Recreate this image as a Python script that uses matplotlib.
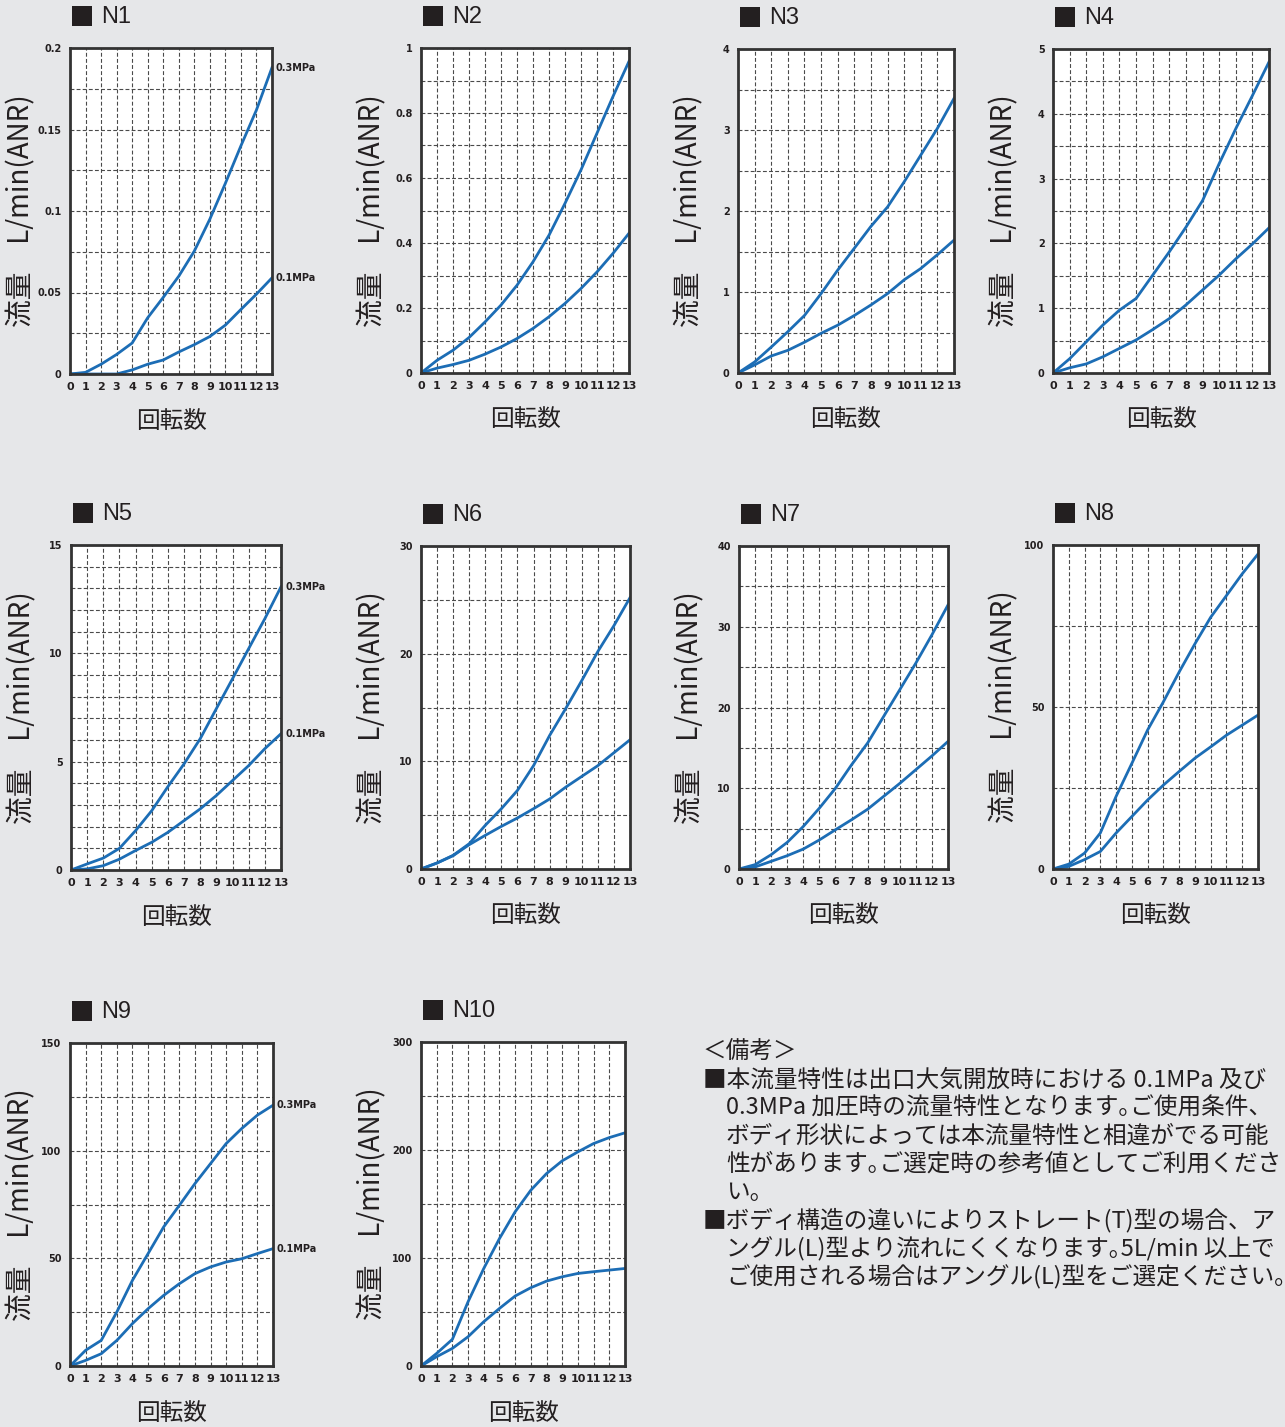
import matplotlib.pyplot as plt
from matplotlib.patches import Rectangle

W, H = 1285, 1427
BG = '#e6e7e9'
BLUE = '#1c6db5'
INK = '#231f20'
JP = ['Noto Sans CJK JP', 'DejaVu Sans']
NUM = ['Liberation Sans Narrow', 'DejaVu Sans']

turns = list(range(14))
turn_labels = [str(t) for t in turns]

# flow values: 0.3MPa and 0.1MPa curves
n1_03 = [0, 0.001, 0.006, 0.012, 0.019, 0.0345, 0.047, 0.060, 0.0754, 0.095, 0.117, 0.140, 0.162, 0.188]
n1_01 = [0, 0, 0, 0, 0.0025, 0.006, 0.0086, 0.0135, 0.018, 0.023, 0.030, 0.0396, 0.049, 0.059]
n2_03 = [0, 0.039, 0.070, 0.109, 0.157, 0.209, 0.270, 0.342, 0.424, 0.522, 0.625, 0.738, 0.851, 0.959]
n2_01 = [0, 0.015, 0.026, 0.039, 0.058, 0.080, 0.106, 0.137, 0.173, 0.214, 0.260, 0.311, 0.368, 0.430]
n3_03 = [0, 0.136, 0.32, 0.51, 0.71, 0.98, 1.27, 1.54, 1.81, 2.05, 2.36, 2.69, 3.02, 3.39]
n3_01 = [0, 0.10, 0.21, 0.28, 0.38, 0.49, 0.59, 0.71, 0.84, 0.98, 1.15, 1.29, 1.46, 1.64]
n4_03 = [0, 0.22, 0.48, 0.74, 0.97, 1.15, 1.51, 1.87, 2.25, 2.66, 3.23, 3.77, 4.28, 4.80]
n4_01 = [0, 0.08, 0.14, 0.25, 0.38, 0.51, 0.67, 0.84, 1.05, 1.28, 1.51, 1.76, 1.99, 2.24]
n5_03 = [0, 0.28, 0.55, 1.0, 1.82, 2.74, 3.85, 4.90, 6.06, 7.45, 8.83, 10.22, 11.6, 13.07]
n5_01 = [0, 0.05, 0.2, 0.5, 0.9, 1.28, 1.74, 2.28, 2.82, 3.44, 4.13, 4.82, 5.6, 6.29]
n6_03 = [0, 0.56, 1.27, 2.35, 4.06, 5.6, 7.3, 9.6, 12.4, 14.9, 17.5, 20.2, 22.6, 25.2]
n6_01 = [0, 0.56, 1.24, 2.26, 3.13, 3.96, 4.74, 5.6, 6.5, 7.6, 8.6, 9.6, 10.8, 12.0]
n7_03 = [0, 0.54, 1.77, 3.3, 5.27, 7.54, 10.0, 12.9, 15.6, 18.9, 22.2, 25.5, 29.0, 32.7]
n7_01 = [0, 0.25, 0.95, 1.65, 2.47, 3.6, 4.86, 6.1, 7.4, 9.0, 10.6, 12.3, 14.0, 15.8]
n8_03 = [0, 1.5, 4.9, 11.1, 22.4, 32.6, 42.9, 51.6, 60.8, 69.5, 77.7, 84.4, 91.1, 97.2]
n8_01 = [0, 0.8, 2.9, 5.4, 11.1, 16.2, 21.3, 25.9, 30.1, 34.2, 37.7, 41.3, 44.4, 47.5]
n9_03 = [0, 7.3, 11.9, 25.1, 39.8, 52.2, 64.6, 74.6, 84.7, 94.0, 103.3, 110.3, 116.5, 121.1]
n9_01 = [0, 2.6, 5.7, 11.9, 19.7, 26.6, 32.8, 38.2, 42.9, 46.0, 48.3, 49.8, 52.2, 54.5]
n10_03 = [0, 11.7, 24.7, 59.5, 90.3, 118, 142.8, 162.8, 178.2, 190, 198.3, 206, 211.5, 215.9]
n10_01 = [0, 8.6, 16.3, 27.1, 41.0, 53.3, 64.8, 72.5, 78.6, 82.6, 85.7, 87.3, 88.8, 90.3]

# y ticks / labels / minor grid step per chart
n1_y = ([0, 0.05, 0.1, 0.15, 0.2], ['0', '0.05', '0.1', '0.15', '0.2'], 0.025)
n2_y = ([0, 0.2, 0.4, 0.6, 0.8, 1], ['0', '0.2', '0.4', '0.6', '0.8', '1'], 0.1)
n3_y = ([0, 1, 2, 3, 4], ['0', '1', '2', '3', '4'], 0.5)
n4_y = ([0, 1, 2, 3, 4, 5], ['0', '1', '2', '3', '4', '5'], 0.5)
n5_y = ([0, 5, 10, 15], ['0', '5', '10', '15'], 1)
n6_y = ([0, 10, 20, 30], ['0', '10', '20', '30'], 5)
n7_y = ([0, 10, 20, 30, 40], ['0', '10', '20', '30', '40'], 5)
n8_y = ([0, 50, 100], ['0', '50', '100'], 25)
n9_y = ([0, 50, 100, 150], ['0', '50', '100', '150'], 25)
n10_y = ([0, 100, 200, 300], ['0', '100', '200', '300'], 50)

# name, box in pixels (left, top, right, bottom), curves, y axis, pressure labels
panels = [
    ('N1', (70, 48, 272, 374), n1_03, n1_01, n1_y, True),
    ('N2', (421, 48, 629, 373), n2_03, n2_01, n2_y, False),
    ('N3', (738, 49, 954, 373), n3_03, n3_01, n3_y, False),
    ('N4', (1053, 49, 1269, 373), n4_03, n4_01, n4_y, False),
    ('N5', (71, 545, 281, 870), n5_03, n5_01, n5_y, True),
    ('N6', (421, 546, 630, 869), n6_03, n6_01, n6_y, False),
    ('N7', (739, 546, 948, 869), n7_03, n7_01, n7_y, False),
    ('N8', (1053, 545, 1258, 869), n8_03, n8_01, n8_y, False),
    ('N9', (70, 1043, 273, 1366), n9_03, n9_01, n9_y, True),
    ('N10', (421, 1042, 625, 1366), n10_03, n10_01, n10_y, False),
]

notes = [
    '＜備考＞',
    '■本流量特性は出口大気開放時における 0.1MPa 及び',
    '0.3MPa 加圧時の流量特性となります｡ご使用条件、',
    'ボディ形状によっては本流量特性と相違がでる可能',
    '性があります｡ご選定時の参考値としてご利用くださ',
    'い。',
    '■ボディ構造の違いによりストレート(T)型の場合、ア',
    'ングル(L)型より流れにくくなります｡5L/min 以上で',
    'ご使用される場合はアングル(L)型をご選定ください｡',
]


def fx(x):
    return x / W


def fy(y):
    return 1 - y / H


fig = plt.figure(figsize=(W / 100, H / 100), dpi=100)
fig.patch.set_facecolor(BG)

for name, (l, t, r, b), hi, lo, (yt, ylab, ystep), tagged in panels:
    ax = fig.add_axes([fx(l), fy(b), (r - l) / W, (b - t) / H])
    ax.set_facecolor('white')
    ymax = yt[-1]
    ax.plot(turns, hi, color=BLUE, lw=2)
    ax.plot(turns, lo, color=BLUE, lw=2)
    ax.set_xlim(0, 13)
    ax.set_ylim(0, ymax)
    ax.set_xticks(turns, turn_labels)
    ax.set_yticks(yt, ylab)
    n = int(round(ymax / ystep))
    ax.set_yticks([i * ystep for i in range(1, n)], minor=True)
    ax.grid(True, which='both', color='#4a4a4a', lw=0.8, ls=(0, (3.5, 2)))
    ax.tick_params(which='both', length=0)
    ax.tick_params(axis='x', pad=6)
    ax.tick_params(axis='y', pad=6)
    for lab in ax.get_xticklabels():
        lab.set_family(NUM)
        lab.set_fontweight('bold')
        lab.set_fontsize(8)
        lab.set_color(INK)
    for lab in ax.get_yticklabels():
        lab.set_family(NUM)
        lab.set_fontweight('bold')
        lab.set_fontsize(7)
        lab.set_color(INK)
    for s in ax.spines.values():
        s.set_color('#333333')
        s.set_linewidth(2)
    if tagged:
        ax.text(13.25, hi[-1], '0.3MPa', fontsize=7, fontweight='bold', family=NUM,
                va='center', ha='left', color=INK, clip_on=False)
        ax.text(13.25, lo[-1], '0.1MPa', fontsize=7, fontweight='bold', family=NUM,
                va='center', ha='left', color=INK, clip_on=False)

    # title block
    fig.add_artist(Rectangle((fx(l + 2), fy(t - 22)), 20 / W, 20 / H,
                             transform=fig.transFigure, color=INK, lw=0))
    fig.text(fx(l + 31), fy(t - 31), name, fontsize=17, family=['Liberation Sans', 'DejaVu Sans'],
             color=INK, va='center', ha='left')
    fig.text(fx(l - 49), fy((t + b) / 2), '流量　L/min(ANR)', rotation=90, fontsize=20,
             family=JP, color=INK, va='center', ha='center')
    fig.text(fx((l + r) / 2), fy(b + 47), '回転数', fontsize=17, family=JP,
             color=INK, va='center', ha='center')

y0 = 1052
for i, line in enumerate(notes):
    x = 703 if (line.startswith('■') or line.startswith('＜')) else 726
    fig.text(fx(x), fy(y0 + i * 28.1), line, fontsize=17, family=JP, color=INK,
             va='center', ha='left')

fig.savefig('out.png', dpi=100, facecolor=BG)
